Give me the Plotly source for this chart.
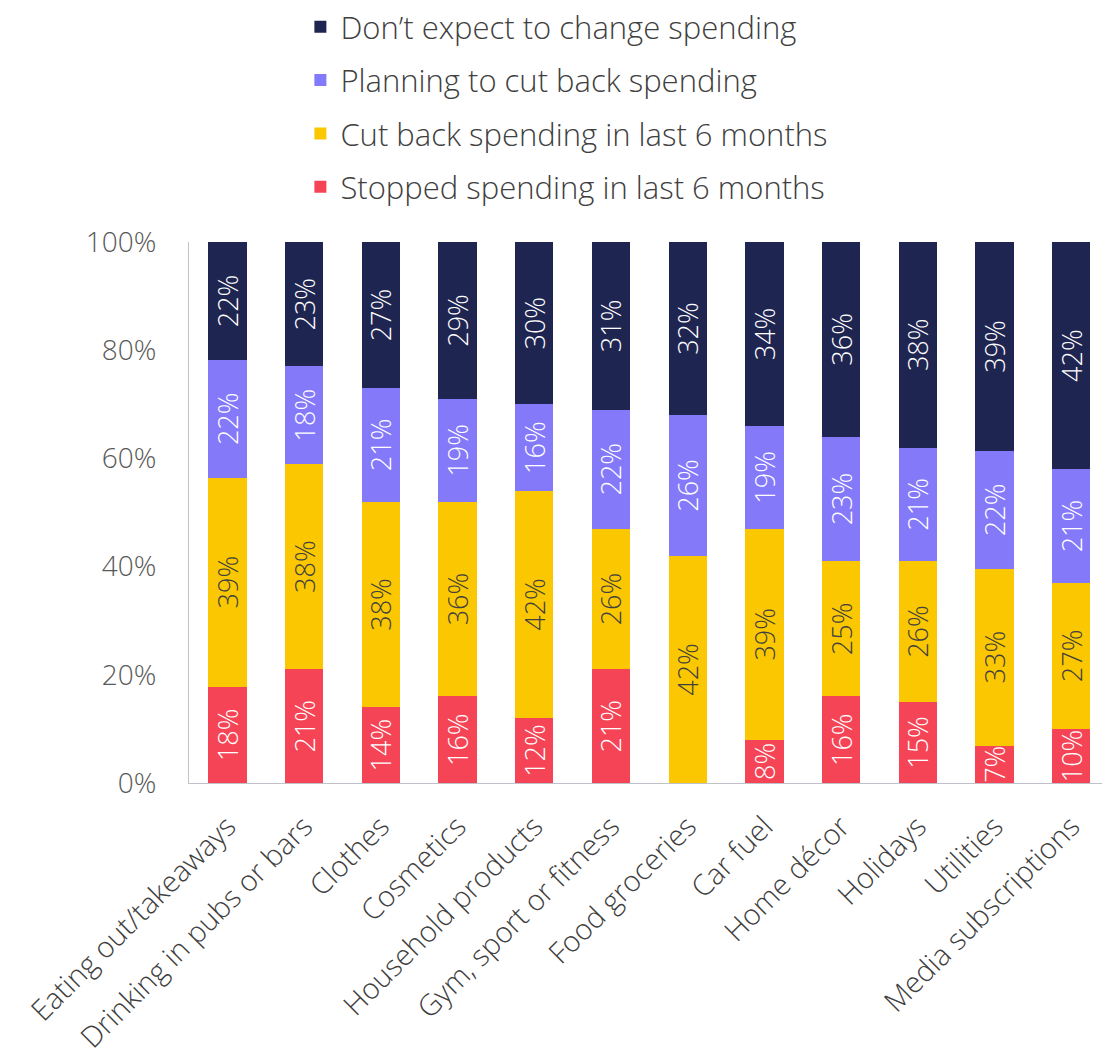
import plotly.graph_objects as go

categories = [
    "Eating out/takeaways", "Drinking in pubs or bars", "Clothes", "Cosmetics",
    "Household products", "Gym, sport or fitness", "Food groceries", "Car fuel",
    "Home décor", "Holidays", "Utilities", "Media subscriptions",
]
stopped = [18, 21, 14, 16, 12, 21, 0, 8, 16, 15, 7, 10]
cut_back = [39, 38, 38, 36, 42, 26, 42, 39, 25, 26, 33, 27]
planning = [22, 18, 21, 19, 16, 22, 26, 19, 23, 21, 22, 21]
no_change = [22, 23, 27, 29, 30, 31, 32, 34, 36, 38, 39, 42]

series = [
    ("Stopped spending in last 6 months", stopped, "#F44455", "white"),
    ("Cut back spending in last 6 months", cut_back, "#FBC700", "#404040"),
    ("Planning to cut back spending", planning, "#8479F9", "white"),
    ("Don’t expect to change spending", no_change, "#1F2551", "white"),
]

FONT = "Open Sans"
WEIGHT = 300

fig = go.Figure()
for i, (name, vals, color, tcolor) in enumerate(series):
    fig.add_trace(go.Bar(
        name=name,
        x=categories,
        y=vals,
        marker=dict(color=color, line=dict(width=0)),
        text=[f"{v}%" if v > 0 else "" for v in vals],
        textposition="inside",
        insidetextanchor="middle",
        textangle=-90,
        constraintext="none",
        textfont=dict(family=FONT, size=27, color=tcolor, weight=WEIGHT),
        legendgroup=f"g{i}",
        legendrank=len(series) - i,
        hoverinfo="skip",
    ))

fig.update_layout(
    barmode="stack",
    barnorm="percent",
    bargap=0.5,
    width=1102,
    height=1055,
    margin=dict(l=189, r=0, t=240, b=272),
    paper_bgcolor="white",
    plot_bgcolor="white",
    font=dict(family=FONT, color="#404040", weight=WEIGHT),
    legend=dict(
        x=0.122, y=1.447, xanchor="left", yanchor="top",
        traceorder="grouped",
        tracegroupgap=10,
        font=dict(family=FONT, size=31, color="#404040", weight=WEIGHT),
        itemwidth=30,
    ),
    xaxis=dict(
        range=[-0.5, 11.4],
        showline=True, linecolor="#BFC3C9", linewidth=1,
        showgrid=False, ticks="",
        tickangle=-45,
        tickfont=dict(family=FONT, size=29, color="#404040", weight=WEIGHT),
        ticklabelstandoff=14,
    ),
    yaxis=dict(
        range=[0, 100],
        tickvals=[0, 20, 40, 60, 80, 100],
        ticktext=["0%", "20%", "40%", "60%", "80%", "100%"],
        showline=True, linecolor="#BFC3C9", linewidth=1,
        showgrid=False, zeroline=False, ticks="",
        tickfont=dict(family=FONT, size=28, color="#595959", weight=WEIGHT),
        ticklabelstandoff=26,
    ),
)

fig.write_html("out.html")
